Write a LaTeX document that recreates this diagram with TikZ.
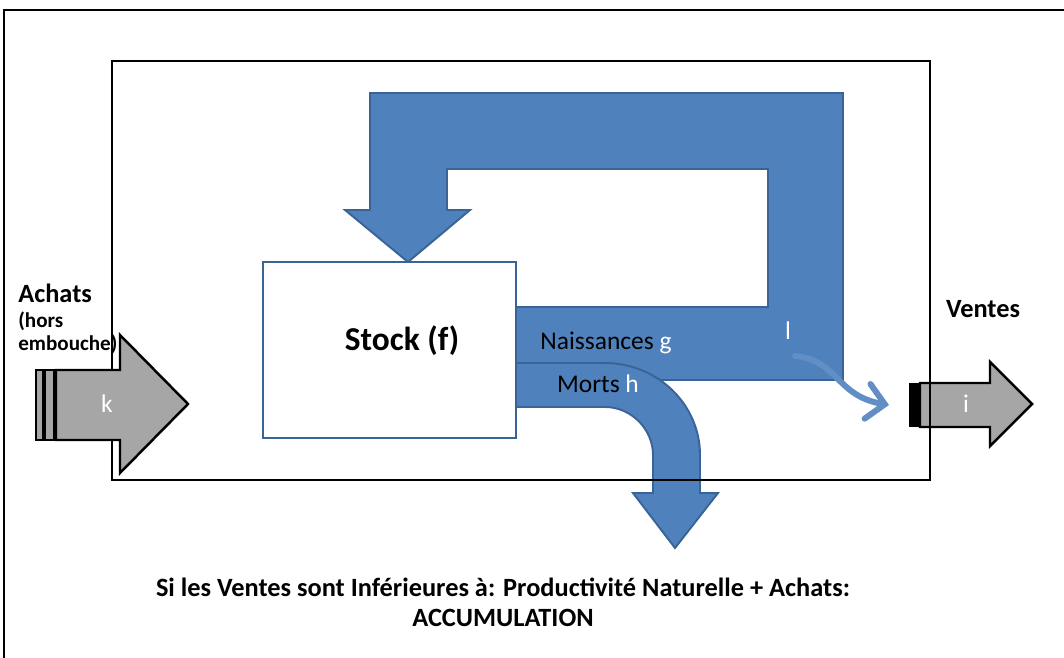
\documentclass[tikz,border=0pt]{standalone}
\usepackage{fontspec}
\setmainfont{Carlito}
\usepackage{xcolor}
\definecolor{flowblue}{HTML}{4F81BD}
\definecolor{flowedge}{HTML}{3A6496}
\definecolor{tradegray}{HTML}{A6A6A6}
\usetikzlibrary{arrows.meta}

\tikzset{
  flowband/.style={fill=flowblue,draw=flowedge,line width=1.1pt,line join=miter},
  tradearrow/.style={fill=tradegray,draw=black,line width=1.4pt,line join=miter},
  framebox/.style={draw=black,line width=1.3pt},
  bandlbl/.style={font=\fontsize{14.5}{17}\selectfont,inner sep=0pt},
  varlbl/.style={text=white,font=\fontsize{14.5}{17}\selectfont,inner sep=0pt},
  sidelbl/.style={font=\bfseries\fontsize{15}{18}\selectfont,inner sep=0pt},
}

\begin{document}
\begin{tikzpicture}[x=0.02cm,y=-0.02cm]
  \useasboundingbox (0,0) rectangle (1064,658);
  % ---------- outer frame (open to the right and bottom) -----------
  \draw[line width=1.5pt] (4,658) -- (4,10) -- (1064,10);
  % ---------- recycling loop : births back into the stock ----------
  \draw[flowband] (516,307) -- (768,307) -- (768,169) -- (447,169)
      -- (447,210) -- (470,210) -- (408,262) -- (345,210) -- (370,210)
      -- (370,93) -- (843,93) -- (843,380) -- (516,380) -- cycle;
  % ---------- deaths leaving the system ----------------------------
  \draw[flowband] (516,363) -- (605,363)
      .. controls (657,363) and (700,404) .. (700,455)
      -- (700,493) -- (718,493) -- (675,548) -- (633,493) -- (653,493)
      -- (653,455) .. controls (653,429) and (631,407) .. (605,407)
      -- (516,407) -- cycle;
  % ---------- stock ------------------------------------------------
  \node[draw=flowedge,fill=white,line width=1.1pt,minimum width=5.06cm,
        minimum height=3.52cm,inner sep=0pt] (stock) at (389.5,350) {};
  \node[font=\bfseries\fontsize{19}{22}\selectfont,inner sep=0pt]
      (stocklbl) at (402,341) {Stock (f)};
  % ---------- sales arrow ------------------------------------------
  \fill[black] (909,383) rectangle (919,427);
  \draw[tradearrow] (920,383) -- (990,383) -- (990,362) -- (1032,404)
      -- (990,446) -- (990,427) -- (920,427) -- cycle;
  % ---------- farm boundary ----------------------------------------
  \draw[framebox] (112,61) rectangle (930,480);
  % ---------- purchases arrow --------------------------------------
  \draw[tradearrow] (36,370) rectangle (43,440);
  \draw[tradearrow] (45,370) rectangle (54,440);
  \draw[tradearrow] (56,370) -- (120,370) -- (120,335) -- (188,404)
      -- (120,473) -- (120,440) -- (56,440) -- cycle;
  % ---------- sold part of the births ------------------------------
  \coordinate (lstart) at (795,356);
  \coordinate (ltip) at (889,405);
  \draw[flowblue!90!white,line width=3.4pt,line cap=round,
        -{Straight Barb[length=10pt,width=20pt,line cap=round]}]
      (lstart) .. controls (838,360) and (836,396) .. (ltip);
  % ---------- labels -----------------------------------------------
  \node[bandlbl] (naiss) at (606,343) {Naissances \textcolor{white}{g}};
  \node[bandlbl] (morts) at (598,384) {Morts \textcolor{white}{h}};
  \node[varlbl] (lvar) at (788,331) {l};
  \node[varlbl] (kvar) at (107,404) {k};
  \node[varlbl] (ivar) at (966,404) {i};
  \node[sidelbl,anchor=west] (achats) at (18,293) {Achats};
  \node[font=\bfseries\fontsize{12}{15}\selectfont,inner sep=0pt,
        anchor=west] (hors) at (18,321) {(hors};
  \node[font=\bfseries\fontsize{12}{15}\selectfont,inner sep=0pt,
        anchor=west] (embouche) at (18,344) {embouche)};
  \node[sidelbl] (ventes) at (983,309) {Ventes};
  \node[font=\bfseries\fontsize{15}{17}\selectfont,align=center,
        inner sep=0pt] (bilan) at (503,602)
      {Si les Ventes sont Inférieures à: Productivité Naturelle + Achats:\\
       ACCUMULATION};
\end{tikzpicture}
\end{document}
